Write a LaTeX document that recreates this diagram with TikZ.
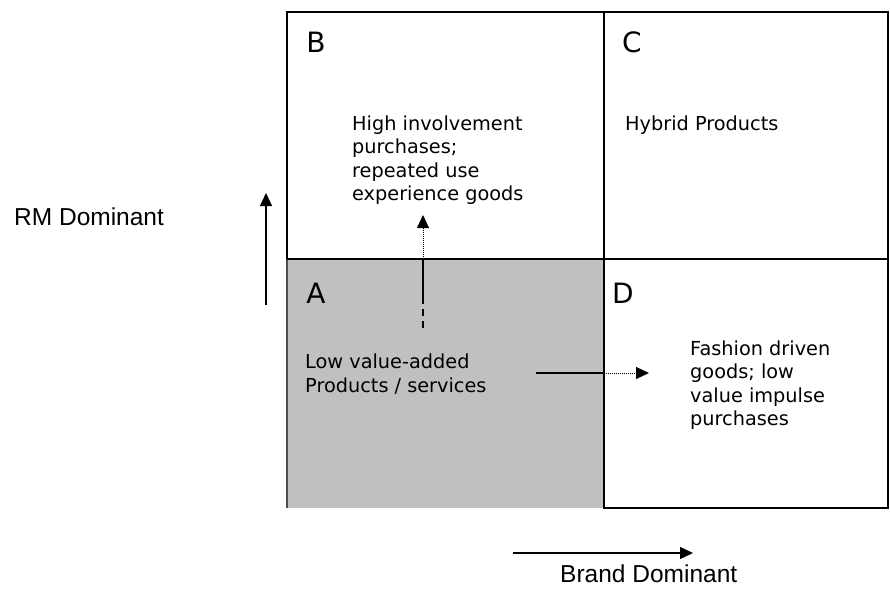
\documentclass[tikz,border=0pt]{standalone}
\usepackage{fontspec}
\setmainfont{DejaVu Sans}
\newfontfamily\axisfont{Liberation Sans}
\usetikzlibrary{arrows.meta,positioning}
\definecolor{quadgrey}{HTML}{C0C0C0}
\tikzset{
    matrix diagram/.style = {>={Triangle[length=13pt, width=12pt]}},
    quad/.style        = {draw, line width=1.3pt, inner sep=0pt, outer sep=0pt,
                          minimum width=317pt, minimum height=247pt},
    letter/.style      = {font=\fontsize{28}{28}\selectfont},
    cell text/.style   = {anchor=west, align=left, inner sep=0pt,
                          font=\fontsize{19.3}{23.5}\selectfont},
    axis label/.style  = {anchor=west, inner sep=0pt,
                          font=\axisfont\fontsize{24.5}{25}\selectfont},
    axis arrow/.style  = {->, line width=1.3pt},
    solid part/.style  = {line width=1.6pt},
    dotted part/.style = {->, line width=1pt, dash pattern=on 1pt off 1pt},
    dashed part/.style = {line width=1.3pt, dash pattern=on 7pt off 5pt}
}

\begin{document}
\begin{tikzpicture}[matrix diagram, x=1pt, y=-1pt]
\useasboundingbox (0,0) rectangle (890,589);

% The four quadrants
\node[quad, anchor=north west] (qB) at (287,12) {};
\node[quad, anchor=north west, minimum width=284pt] (qC) at (qB.north east) {};
\node[quad, anchor=north west, draw=none, fill=quadgrey,
      minimum height=249pt] (qA) at (qB.south west) {};
\node[quad, anchor=north west, minimum width=284pt,
      minimum height=249pt] (qD) at (qA.north east) {};
\draw[line width=1.3pt, black!70] (qA.north west) -- (qA.south west);
\draw[line width=1.3pt] (qA.north west) -- (qA.north east) -- (qA.south east);

% Quadrant letters
\node[letter] (lB) at (316,42) {B};
\node[letter] (lC) at (632,42) {C};
\node[letter] (lA) at (316,293) {A};
\node[letter] (lD) at (623,293) {D};

% Quadrant texts
\node[cell text] (tB) at (352,160)
    {High involvement\\purchases;\\repeated use\\experience goods};
\node[cell text] (tC) at (625,125) {Hybrid Products};
\node[cell text] (tA) at (305,374) {Low value-added\\Products / services};
\node[cell text] (tD) at (690,385)
    {Fashion driven\\goods; low\\value impulse\\purchases};

% Axes
\coordinate (rmTail) at (266,305);
\coordinate (rmHead) at (266,193);
\draw[axis arrow] (rmTail) -- (rmHead);
\node[axis label] (rmLabel) at (14,217) {RM Dominant};
\coordinate (bdTail) at (513,553);
\coordinate (bdHead) at (693,553);
\draw[axis arrow] (bdTail) -- (bdHead);
\node[axis label] (bdLabel) at (560,574) {Brand Dominant};

% Movement from A towards B
\coordinate (upLow) at (423,328);
\coordinate (upMid) at (423,303);
\coordinate (upEdge) at (qA.north -| upLow);
\coordinate (upHead) at (423,215);
\draw[dashed part] (upLow) -- (upMid);
\draw[solid part] (upMid) -- (upEdge);
\draw[dotted part] (upEdge) -- (upHead);

% Movement from A towards D
\coordinate (rtTail) at (536,373);
\coordinate (rtEdge) at (qA.east |- rtTail);
\coordinate (rtHead) at (649,373);
\draw[solid part] (rtTail) -- (rtEdge);
\draw[dotted part] (rtEdge) -- (rtHead);

\end{tikzpicture}
\end{document}
